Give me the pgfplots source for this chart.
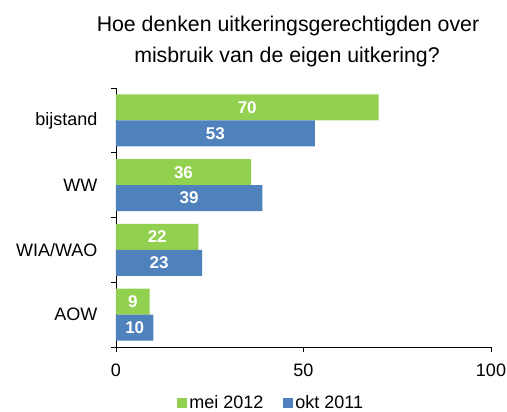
\documentclass[border=0pt]{standalone}
\usepackage{fontspec}
\setmainfont{Liberation Sans}
\usepackage{pgfplots}
\pgfplotsset{compat=1.18}
\definecolor{grn}{HTML}{92D050}
\definecolor{blu}{HTML}{4F81BD}
\begin{document}
\begin{tikzpicture}
\useasboundingbox (0pt,0pt) rectangle (507pt,412pt);
\node[font=\fontsize{21.3}{24}\selectfont, anchor=base] at (288pt,380pt) {Hoe denken uitkeringsgerechtigden over};
\node[font=\fontsize{21.3}{24}\selectfont, anchor=base] at (287pt,349pt) {misbruik van de eigen uitkering?};
\begin{axis}[
  at={(116pt,65pt)}, anchor=south west,
  width=375pt, height=259pt, scale only axis,
  xmin=0, xmax=100, ymin=-0.5, ymax=3.5,
  axis lines*=left,
  axis line style={-, black, line width=0.9pt},
  xtick={0,50,100},
  ytick={-0.5,0.5,1.5,2.5,3.5},
  yticklabels={AOW,WIA/WAO,WW,bijstand},
  y tick label as interval,
  tick align=outside, major tick length=5pt,
  tick style={black, line width=0.9pt},
  ticklabel style={font=\fontsize{18}{20}\selectfont},
  xticklabel style={yshift=-8pt},
  yticklabel style={xshift=-10pt},
  /pgf/number format/assume math mode=true,
  legend columns=2,
  legend style={at={(0.414,-0.217)}, anchor=center, draw=none, fill=none,
    font=\fontsize{18}{20}\selectfont,
    /tikz/every even column/.append style={column sep=18pt}},
  legend image code/.code={\fill[#1] (0pt,-5pt) rectangle (10pt,5pt);},
]
\addplot[xbar, bar width=0.4, bar shift=0.2, fill=grn, draw=none] coordinates {(70,3) (36,2) (22,1) (9,0)};
\addlegendentry{mei 2012}
\addplot[xbar, bar width=0.4, bar shift=-0.2, fill=blu, draw=none] coordinates {(53,3) (39,2) (23,1) (10,0)};
\addlegendentry{okt 2011}
\addplot[draw=none, mark=none, forget plot, nodes near coords, point meta=explicit,
  nodes near coords align=center,
  every node near coord/.append style={text=white, font=\bfseries\fontsize{17}{17}\selectfont}]
  table[x expr=\thisrow{v}/2, y expr=\thisrow{c}+0.2, meta=v] {
c v
3 70
2 36
1 22
0 9
};
\addplot[draw=none, mark=none, forget plot, nodes near coords, point meta=explicit,
  nodes near coords align=center,
  every node near coord/.append style={text=white, font=\bfseries\fontsize{17}{17}\selectfont}]
  table[x expr=\thisrow{v}/2, y expr=\thisrow{c}-0.2, meta=v] {
c v
3 53
2 39
1 23
0 10
};
\end{axis}
\end{tikzpicture}
\end{document}
